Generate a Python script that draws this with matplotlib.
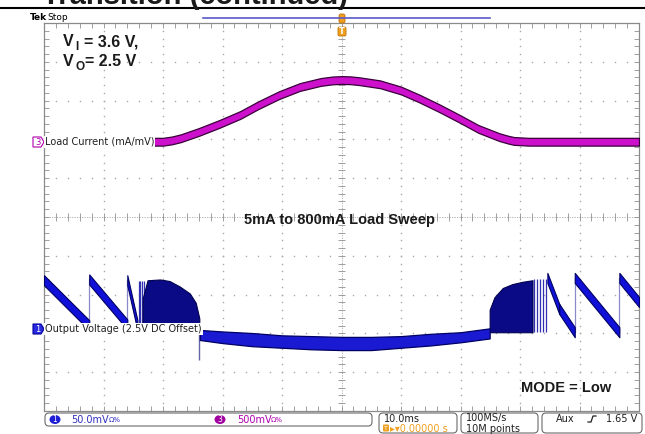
import numpy as np
import matplotlib.pyplot as plt
from matplotlib.patches import FancyBboxPatch, Ellipse, Polygon

W, H = 645, 434

# time axis in ms (10 ms/div, trigger at centre), screen in divisions
t_lim = (-50, 50)

# CH3: load current in mA, 500 mV/div probe at 1 mA/mV
load_t = [-50, -30, -28.5, -27, -24, -20.5, -17, -14, -10.5, -7, -3.5, -1.5,
          0, 1.5, 3, 6.5, 10, 13, 16.5, 20, 23, 26.5, 28, 29, 31.5, 50]
load_ma = [5, 5, 22, 50, 130, 235, 350, 475, 605, 710, 775, 795,
           800, 797, 785, 745, 665, 565, 435, 295, 170, 65, 32, 15, 5, 5]
ch3_pos = 1.93   # div
ch3_scale = 500  # mA/div

# CH1: output ripple in mV around 2.5 V, 50 mV/div
ch1_pos = -2.89
ch1_scale = 50

# PFM sawtooth at light load (vertices, equal times are the refresh jumps)
pfm_in_t = [-50, -42.4, -42.4, -36.0, -36.0, -34.3]
pfm_in_mv = [63, 5, 64, 6, 63, 5]
spike_in_t = [-34.1, -33.8, -33.5, -33.2]
spike_in_mv = (5, 62)
burst_in_t = [-33.4, -32.6, -30.5, -28.9, -27.2, -25.5, -24.5, -23.9]
burst_in_top = [40, 63, 64, 62, 55, 46, 34, 14]
burst_in_bot = 5
mode_dip_t = -23.9
mode_dip_mv = (5, -40)

# PWM operation at heavy load
pwm_t = [-23.8, -20, -15, -10, -5, 0, 5, 10, 15, 20, 24.9]
pwm_hi = [-1, -3, -5, -8, -9, -10, -10, -9, -6, -4, 1]
pwm_lo = [-14, -18, -22, -24, -26, -27, -27, -24, -21, -17, -12]

# back to PFM as the load falls
burst_out_t = [24.9, 25.7, 27.1, 28.7, 30.4, 32.1]
burst_out_top = [25, 41, 53, 58, 61, 63]
burst_out_bot = -4
spike_out_t = [32.4, 32.9, 33.4, 33.9, 34.4]
spike_out_mv = (-4, 64)
pfm_out_t = [34.6, 36.6, 39.2, 39.2, 46.7, 46.7, 50]
pfm_out_mv = [66, 26, -4, 66, -4, 66, 35]


def ch1(mv):
    return ch1_pos + np.asarray(mv, dtype=float) / ch1_scale


def ch3(ma):
    return ch3_pos + np.asarray(ma, dtype=float) / ch3_scale


fig = plt.figure(figsize=(W / 100, H / 100), dpi=100)

# graticule in pixels
gx0, gx1, gy0, gy1 = 44, 639, 23, 411
ax = fig.add_axes([gx0 / W, 1 - gy1 / H, (gx1 - gx0) / W, (gy1 - gy0) / H])
ax.set_xlim(*t_lim)
ax.set_ylim(-5, 5)
ax.set_xticks([])
ax.set_yticks([])
for s in ax.spines.values():
    s.set_color('#8a8a8a')
    s.set_linewidth(0.9)

grid_c = '#a8a8a8'
dots_x = np.arange(-50, 50.01, 2)
dots_y = np.arange(-5, 5.01, 0.2)
for gx in range(-40, 41, 10):
    if gx != 0:
        ax.plot(np.full_like(dots_y, gx), dots_y, ls='none', marker='s',
                ms=1.0, mew=0, color=grid_c)
for gy in range(-4, 5):
    if gy != 0:
        ax.plot(dots_x, np.full_like(dots_x, gy), ls='none', marker='s',
                ms=1.0, mew=0, color=grid_c)
# centre cross with minor ticks
tx, ty = 0.65, 0.1
ax.axhline(0, color=grid_c, lw=0.6, ls=(0, (1.5, 1.5)))
ax.axvline(0, color=grid_c, lw=0.6, ls=(0, (1.5, 1.5)))
ax.vlines(dots_x, -ty, ty, color='#909090', lw=0.6)
ax.hlines(dots_y, -tx, tx, color='#909090', lw=0.6)
# border ticks
ax.vlines(dots_x, -5, -5 + ty * 1.2, color='#909090', lw=0.6)
ax.vlines(dots_x, 5 - ty * 1.2, 5, color='#909090', lw=0.6)
ax.hlines(dots_y, -50, -50 + tx * 1.2, color='#909090', lw=0.6)
ax.hlines(dots_y, 50 - tx * 1.2, 50, color='#909090', lw=0.6)

# CH3 load current band
hw3 = 0.1
y3 = ch3(load_ma)
ax.fill_between(load_t, y3 - hw3, y3 + hw3, facecolor='#cc10cc',
                edgecolor='#3a003a', lw=0.9, zorder=4)

# CH1 output voltage
blue = '#1010d8'
navy = '#000064'
hw1 = 0.13


def draw_saw(ts, mvs):
    pts = list(zip(ts, mvs))
    for (t0, v0), (t1, v1) in zip(pts, pts[1:]):
        if t0 == t1:
            ax.plot([t0, t1], ch1([v0, v1]), color='#8a8ac8', lw=0.9, zorder=3)
        else:
            yy = ch1([v0, v1])
            ax.fill_between([t0, t1], yy - hw1, yy + hw1, facecolor=blue,
                            edgecolor=navy, lw=0.8, zorder=4)


draw_saw(pfm_in_t, pfm_in_mv)
draw_saw(pfm_out_t, pfm_out_mv)

ax.vlines(spike_in_t, *ch1(spike_in_mv), color='#3030b0', lw=0.9, zorder=4)
ax.vlines(spike_out_t, *ch1(spike_out_mv), color='#3030b0', lw=0.9, zorder=4)

ax.fill_between(burst_in_t, ch1(burst_in_bot), ch1(burst_in_top),
                facecolor='#0a0a86', edgecolor='#000050', lw=0.8, zorder=4)
ax.fill_between(burst_out_t, ch1(burst_out_bot), ch1(burst_out_top),
                facecolor='#0a0a86', edgecolor='#000050', lw=0.8, zorder=4)

ax.vlines(mode_dip_t, *ch1(mode_dip_mv), color='#6464a8', lw=1.0, zorder=3)

ax.fill_between(pwm_t, ch1(pwm_lo), ch1(pwm_hi), facecolor='#1a1ad2',
                edgecolor=navy, lw=0.9, zorder=4)

# overlay in pixel coordinates for screen annotations
ov = fig.add_axes([0, 0, 1, 1], zorder=5)
ov.set_xlim(0, W)
ov.set_ylim(H, 0)
ov.axis('off')
ov.patch.set_alpha(0)

bold = dict(family='Liberation Sans', fontweight='bold', color='#1a1a1a')
ui = dict(family='DejaVu Sans')

# page heading cut at the top
ov.text(42, 4.5, 'Transition (continued)', fontsize=21, va='baseline', **bold)
ov.plot([0, W], [7.5, 7.5], color='black', lw=1.5)

ov.text(30, 18, 'Tek', fontsize=6.5, fontweight='bold', va='center',
        family='DejaVu Sans')
ov.text(47, 18, 'Stop', fontsize=6.5, va='center', **ui)
ov.plot([203, 490], [18, 18], color='#5a5ac8', lw=1.2)

# trigger position marker
orange = '#f0a020'
ov.add_patch(FancyBboxPatch((339, 14), 6, 9, boxstyle='round,pad=0,rounding_size=2',
                            fc=orange, ec='#c07000', lw=0.6))
ov.add_patch(FancyBboxPatch((338, 27), 8, 9, boxstyle='round,pad=0,rounding_size=1.5',
                            fc=orange, ec='#c07000', lw=0.6))
ov.text(342, 31.5, 'T', fontsize=6, color='white', ha='center', va='center',
        fontweight='bold', **ui)

# supply conditions
ov.text(63, 42, 'V', fontsize=11.5, va='center', **bold)
ov.text(75, 47, 'I', fontsize=8.5, va='center', **bold)
ov.text(84, 42, '= 3.6 V,', fontsize=11.5, va='center', **bold)
ov.text(63, 62, 'V', fontsize=11.5, va='center', **bold)
ov.text(75, 67, 'O', fontsize=8.5, va='center', **bold)
ov.text(85, 62, '= 2.5 V', fontsize=11.5, va='center', **bold)

ov.text(340, 220, '5mA to 800mA Load Sweep', fontsize=10.5, ha='center',
        va='center', **bold)
ov.text(566, 388, 'MODE = Low', fontsize=10.5, ha='center', va='center', **bold)

# channel ground markers and labels
ov.add_patch(Polygon([(33, 137), (41, 137), (44, 142), (41, 147), (33, 147)],
                     closed=True, fc='white', ec='#b000b0', lw=0.8))
ov.text(37.5, 142.5, '3', fontsize=6, color='#b000b0', ha='center', va='center', **ui)
ov.text(45, 142, 'Load Current (mA/mV)', fontsize=7, va='center', color='#202020',
        bbox=dict(fc='white', ec='none', pad=0.6), **ui)

ov.add_patch(Polygon([(33, 324), (41, 324), (44, 329), (41, 334), (33, 334)],
                     closed=True, fc='#2a2ae0', ec='#0000a0', lw=0.8))
ov.text(37.5, 329.5, '1', fontsize=6, color='white', ha='center', va='center', **ui)
ov.text(45, 329, 'Output Voltage (2.5V DC Offset)', fontsize=7, va='center',
        color='#202020', bbox=dict(fc='white', ec='none', pad=0.6), **ui)

# status bar
def box(x, y, w, h):
    ov.add_patch(FancyBboxPatch((x, y), w, h, boxstyle='round,pad=0,rounding_size=4',
                                fc='white', ec='#6a6a6a', lw=0.8))


box(45, 413, 327, 13)
box(379, 413, 78, 20)
box(461, 413, 77, 20)
box(542, 413, 100, 20)

ov.add_patch(Ellipse((55, 419.5), 11, 9, fc='#1e1ed8', ec='none'))
ov.text(55, 420, '1', fontsize=5.5, color='white', ha='center', va='center', **ui)
ov.text(71, 420, '50.0mV', fontsize=7, color='#3030c0', va='center', **ui)
ov.text(109, 420, 'Ω%', fontsize=5, color='#3030c0', va='center', **ui)

ov.add_patch(Ellipse((220, 419.5), 11, 9, fc='#a000a0', ec='none'))
ov.text(220, 420, '3', fontsize=5.5, color='white', ha='center', va='center', **ui)
ov.text(237, 420, '500mV', fontsize=7, color='#b000b0', va='center', **ui)
ov.text(271, 420, 'Ω%', fontsize=5, color='#b000b0', va='center', **ui)

ov.text(384, 418.5, '10.0ms', fontsize=7, va='center', color='#202020', **ui)
ov.add_patch(FancyBboxPatch((383, 424.5), 6, 7, boxstyle='round,pad=0,rounding_size=1',
                            fc=orange, ec='none'))
ov.text(386, 428.5, 'T', fontsize=4.5, color='white', ha='center', va='center', **ui)
ov.text(390, 428.5, '\u25b8\u25be0.00000 s', fontsize=7, va='center', color=orange, **ui)

ov.text(466, 418.5, '100MS/s', fontsize=7, va='center', color='#202020', **ui)
ov.text(466, 428.5, '10M points', fontsize=7, va='center', color='#202020', **ui)

ov.text(556, 419, 'Aux', fontsize=7, va='center', color='#202020', **ui)
ov.plot([588, 591, 593, 596], [422, 422, 416, 416], color='#202020', lw=0.9)
ov.text(606, 419, '1.65 V', fontsize=7, va='center', color='#202020', **ui)

fig.savefig('out.png', dpi=100)
